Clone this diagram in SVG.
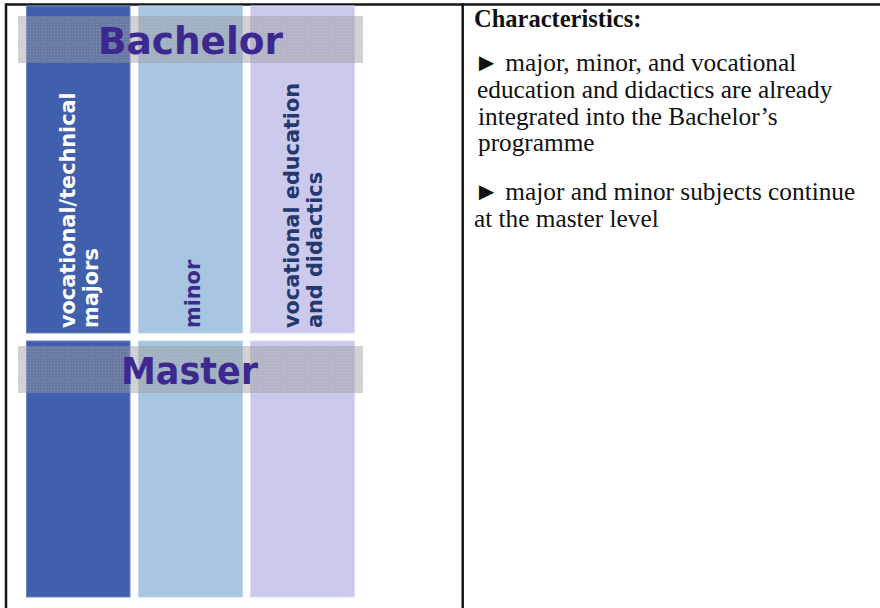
<svg xmlns="http://www.w3.org/2000/svg" width="880" height="608" viewBox="0 0 880 608">
  <style>
    .rule { stroke: #151515; stroke-width: 2.5; fill: none; }
    .col-major { fill: #4060ae; stroke: #6a86c8; stroke-width: 1; }
    .col-minor { fill: #a8c5e2; stroke: #c2d7ec; stroke-width: 1; }
    .col-did { fill: #cccaec; stroke: #dcdaf4; stroke-width: 1; }
    .band { fill: #9a9a9a; fill-opacity: 0.45; }
    .band-grid { fill: url(#grid); }
    .level { font-family: "DejaVu Sans", Verdana, sans-serif; font-weight: bold; font-size: 37px; fill: #3d2890; }
    .vlabel { font-family: "DejaVu Sans", Verdana, sans-serif; font-weight: bold; font-size: 20.8px; }
    .heading { font-family: "Liberation Serif", "Times New Roman", serif; font-weight: bold; font-size: 24.5px; fill: #111; }
    .body { font-family: "Liberation Serif", "Times New Roman", serif; font-size: 25.3px; fill: #111; }
  </style>
  <defs>
    <pattern id="grid" width="3" height="3" patternUnits="userSpaceOnUse">
      <rect x="0" y="0" width="1" height="1" fill="#ffffff" fill-opacity="0.18"/>
    </pattern>
  </defs>

  <rect width="880" height="608" fill="#ffffff"/>

  <!-- table frame -->
  <g id="frame">
    <line class="rule" x1="6" y1="4.5" x2="880" y2="4.5"/>
    <line class="rule" x1="6" y1="3.3" x2="6" y2="608"/>
    <line class="rule" x1="462.7" y1="3.3" x2="462.7" y2="608"/>
  </g>

  <!-- bachelor columns -->
  <g id="bachelor-columns">
    <rect class="col-major" x="26.5" y="6" width="103.5" height="327"/>
    <rect class="col-minor" x="138.5" y="6" width="104" height="327"/>
    <rect class="col-did" x="250.5" y="6" width="104" height="327"/>
  </g>

  <!-- master columns -->
  <g id="master-columns">
    <rect class="col-major" x="26.5" y="341" width="103.5" height="256"/>
    <rect class="col-minor" x="138.5" y="341" width="104" height="256"/>
    <rect class="col-did" x="250.5" y="341" width="104" height="256"/>
  </g>

  <!-- column labels -->
  <g id="label-major" class="vlabel" fill="#ffffff">
    <text transform="translate(75,328) rotate(-90)">vocational/technical</text>
    <text transform="translate(98,328) rotate(-90)">majors</text>
  </g>
  <g id="label-minor" class="vlabel" fill="#3b2a8a">
    <text transform="translate(200,328) rotate(-90)">minor</text>
  </g>
  <g id="label-didactics" class="vlabel" fill="#22386e">
    <text transform="translate(299,328) rotate(-90)">vocational education</text>
    <text transform="translate(322,328) rotate(-90)">and didactics</text>
  </g>

  <!-- level bands -->
  <g id="bachelor-band">
    <rect class="band" x="18" y="16" width="345" height="47"/>
    <rect class="band-grid" x="18" y="16" width="345" height="47"/>
    <text class="level" x="98" y="54" textLength="185" lengthAdjust="spacingAndGlyphs">Bachelor</text>
  </g>
  <g id="master-band">
    <rect class="band" x="18" y="346" width="345" height="47"/>
    <rect class="band-grid" x="18" y="346" width="345" height="47"/>
    <text class="level" x="121" y="384" textLength="137" lengthAdjust="spacingAndGlyphs">Master</text>
  </g>

  <!-- characteristics panel -->
  <g id="characteristics">
    <text class="heading" x="474" y="27">Characteristics:</text>
    <text class="body" x="474" y="71">► major, minor, and vocational</text>
    <text class="body" x="477" y="98">education and didactics are already</text>
    <text class="body" x="478" y="125">integrated into the Bachelor’s</text>
    <text class="body" x="478" y="151">programme</text>
    <text class="body" x="474" y="200">► major and minor subjects continue</text>
    <text class="body" x="474" y="227">at the master level</text>
  </g>
</svg>
